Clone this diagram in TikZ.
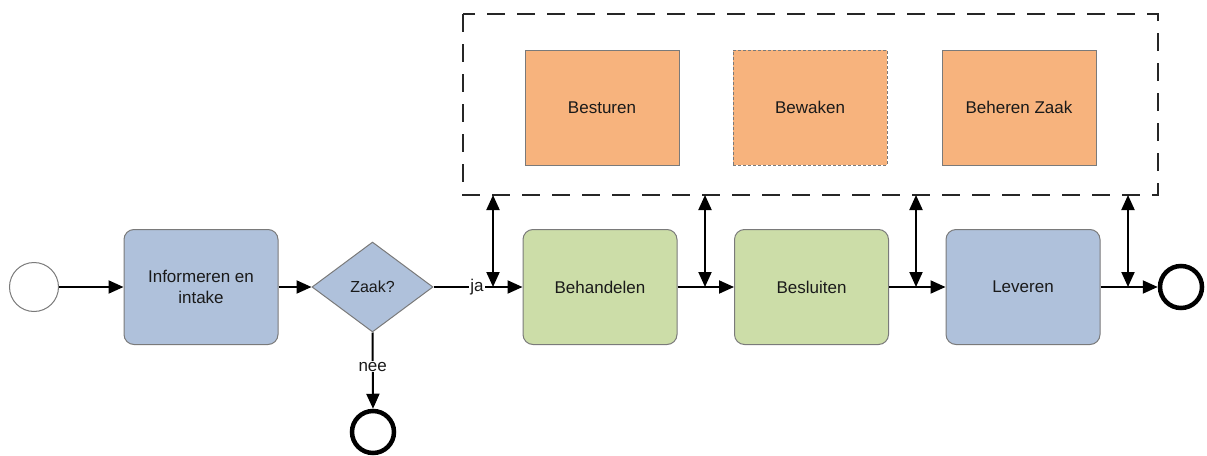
\documentclass[tikz,border=0pt]{standalone}
\usepackage{fontspec}
\setmainfont{Liberation Sans}
\usetikzlibrary{arrows.meta,shapes.geometric}
\definecolor{bluefill}{HTML}{AFC1DB}
\definecolor{greenfill}{HTML}{CCDDA8}
\definecolor{orangefill}{HTML}{F7B37D}
\definecolor{bordergray}{HTML}{7A7A7A}
\definecolor{txt}{HTML}{1A1A1A}
\tikzset{
  task/.style={draw=bordergray, line width=1pt, rounded corners=10pt, minimum width=154pt, minimum height=115pt, inner sep=0pt, align=center, text=txt, font=\fontsize{17}{21}\selectfont},
  sub/.style={draw=bordergray, line width=1pt, minimum width=154pt, minimum height=115pt, inner sep=0pt, align=center, text=txt, fill=orangefill, font=\fontsize{17}{21}\selectfont},
  conn/.style={line width=2pt, -{Triangle[length=15pt,width=13pt]}},
  biconn/.style={line width=2pt, {Triangle[length=15pt,width=13pt]}-{Triangle[length=15pt,width=13pt]}},
  endev/.style={circle, draw=black, line width=4.5pt, minimum size=42pt, inner sep=0pt},
  lab/.style={fill=white, inner sep=1pt, text=txt, font=\fontsize{17}{21}\selectfont},
}
\begin{document}
\begin{tikzpicture}[x=1pt,y=-1pt]
\useasboundingbox (0,0) rectangle (1207,455);
% dashed container
\draw[line width=2pt, dash pattern=on 18pt off 12pt, draw=black!85] (463,14) rectangle (1158,195);
\node[sub] (besturen) at (602,107.5) {Besturen};
\node[sub, densely dashed] (bewaken) at (810,107.5) {Bewaken};
\node[sub] (beheren) at (1019,107.5) {Beheren Zaak};
% start
\node[circle, draw=bordergray, line width=1pt, minimum size=49pt, inner sep=0pt, fill=white] (start) at (34,287) {};
\node[task, fill=bluefill] (info) at (201,287) {Informeren en\\intake};
\node[diamond, draw=bordergray, line width=1pt, fill=bluefill, minimum width=121pt, minimum height=90pt, inner sep=0pt, aspect=1.34, text=txt, font=\fontsize{16}{19}\selectfont] (dia) at (372.5,287) {Zaak?};
\node[task, fill=greenfill] (beh) at (600,287) {Behandelen};
\node[task, fill=greenfill] (bes) at (811.5,287) {Besluiten};
\node[task, fill=bluefill] (lev) at (1023,287) {Leveren};
\node[endev] (end1) at (1181,287) {};
\node[endev] (end2) at (373,432) {};
% junctions
\coordinate (j1) at (493,287); \coordinate (t1) at (493,195);
\coordinate (j2) at (705,287); \coordinate (t2) at (705,195);
\coordinate (j3) at (916,287); \coordinate (t3) at (916,195);
\coordinate (j4) at (1128,287); \coordinate (t4) at (1128,195);
% flows
\draw[conn] (start) -- (info);
\draw[conn] (info.east) -- (dia.west);
\draw[conn] (dia.east) -- node[lab, pos=0.73]{ja} (j1) -- (beh.west);
\draw[conn] (beh.east) -- (j2) -- (bes.west);
\draw[conn] (bes.east) -- (j3) -- (lev.west);
\draw[conn] (lev.east) -- (j4) -- (end1.west);
\draw[conn] (dia.south) -- node[lab, pos=0.45]{nee} (end2.north);
\draw[biconn] (t1) -- (j1);
\draw[biconn] (t2) -- (j2);
\draw[biconn] (t3) -- (j3);
\draw[biconn] (t4) -- (j4);
\end{tikzpicture}
\end{document}
